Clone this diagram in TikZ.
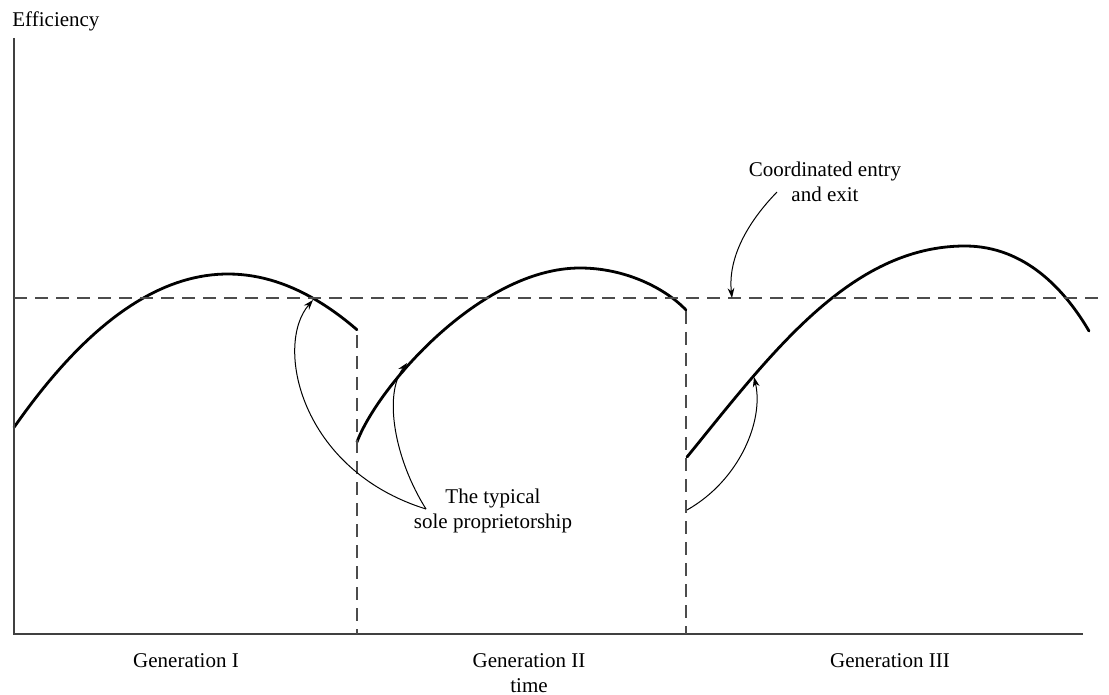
\documentclass[tikz,border=0pt]{standalone}
\usepackage{fontspec}
\setmainfont{Liberation Serif}
\usetikzlibrary{arrows.meta}
\begin{document}
\begin{tikzpicture}[x=0.5pt, y=-0.5pt,
axis line/.style={draw=black!75, line width=0.9pt},
level line/.style={draw=black!70, line width=0.7pt, dash pattern=on 6.5pt off 4pt},
gen curve/.style={line width=1.4pt, line cap=round},
note arrow/.style={line width=0.5pt, -{Stealth[length=5pt,width=3.4pt]}},
label text/.style={font=\fontsize{10.5}{12.5}\selectfont, align=center, inner sep=0pt}]
\useasboundingbox (0,0) rectangle (1109,695);
\begin{scope}
\coordinate (o) at (14,634);
\coordinate (ytop) at (14,38);
\coordinate (xend) at (1083,634);
\coordinate (lvl0) at (14,298);
\coordinate (lvl1) at (1104,298);
\coordinate (cut1top) at (357,335);
\coordinate (cut1bot) at (357,634);
\coordinate (cut2top) at (686,311);
\coordinate (cut2bot) at (686,634);
%\coordinate () at (,);
\end{scope}
\begin{scope}[every node/.style={label text}]
\node[anchor=base west] (eff) at (12,27) {Efficiency};
\node[anchor=base] (coord) at (825,202) {Coordinated entry\\and exit};
\node[anchor=base] (sole) at (493,528) {The typical\\sole proprietorship};
\node[anchor=base] (gen1) at (186,667) {Generation I};
\node[anchor=base] (gen2) at (529,692) {Generation II\\time};
\node[anchor=base] (gen3) at (890,667) {Generation III};
\end{scope}
\begin{scope}
\draw[gen curve] plot[domain=14:357, samples=60] (\x, {274+33.5*((\x-228)/100)^2});
\draw[gen curve] (357,442) .. controls (377,388) and (480,268) .. (580,268)
  .. controls (625,268) and (665,288) .. (686,310);
\draw[gen curve] (687,457) .. controls (770,355) and (850,246) .. (965,246)
  .. controls (1025,246) and (1065,290) .. (1089,331);
\end{scope}
\begin{scope}
\draw[axis line] (ytop) -- (o) -- (xend);
\draw[level line] (lvl0) -- (lvl1);
\draw[level line] (cut1top) -- (cut1bot);
\draw[level line] (cut2top) -- (cut2bot);
\end{scope}
\begin{scope}
\coordinate (s1) at (426,509);
\coordinate (t1) at (313,300);
\coordinate (t2) at (407,363);
\coordinate (s3) at (687,510);
\coordinate (t3) at (754,377);
\coordinate (s4) at (777,192);
\coordinate (t4) at (732,298);
\draw[note arrow] (s1) .. controls (300,470) and (274,345) .. (t1);
\draw[note arrow] (s1) .. controls (395,460) and (383,395) .. (t2);
\draw[note arrow] (s3) .. controls (740,480) and (764,420) .. (t3);
\draw[note arrow] (s4) .. controls (745,225) and (728,260) .. (t4);
\end{scope}
\end{tikzpicture}
\end{document}
